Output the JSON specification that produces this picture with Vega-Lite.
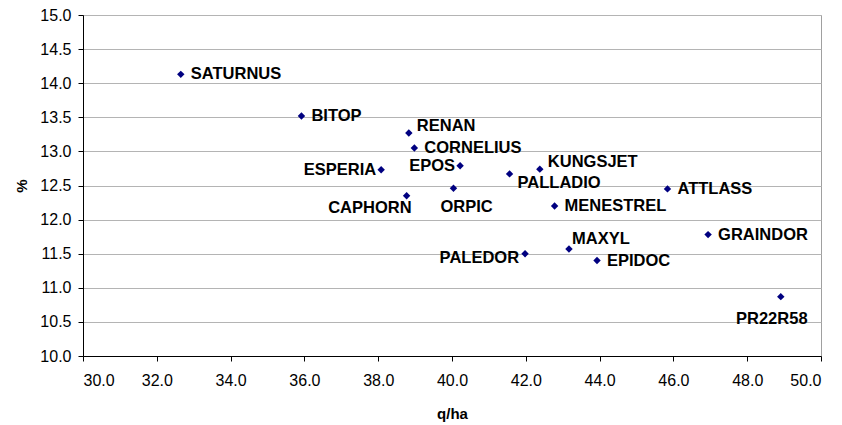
{
  "$schema": "https://vega.github.io/schema/vega-lite/v6.json",
  "width": 738,
  "height": 341,
  "autosize": {"type": "none"},
  "padding": {"left": 83, "top": 15, "right": 21, "bottom": 69},
  "background": "white",
  "config": {
    "view": {"stroke": "#a0a0a0", "strokeWidth": 1},
    "font": "Liberation Sans",
    "axis": {
      "labelFont": "Liberation Sans",
      "titleFont": "Liberation Sans",
      "labelFontSize": 16,
      "labelColor": "#000000",
      "titleFontSize": 15,
      "titleFontWeight": "bold",
      "titleColor": "#000000",
      "domainColor": "#000000",
      "tickColor": "#000000",
      "tickSize": 5
    }
  },
  "data": {
    "values": [
      {"variety": "SATURNUS", "qha": 32.65, "pct": 14.13},
      {"variety": "BITOP", "qha": 35.92, "pct": 13.52},
      {"variety": "RENAN", "qha": 38.83, "pct": 13.27},
      {"variety": "CORNELIUS", "qha": 38.98, "pct": 13.05},
      {"variety": "ESPERIA", "qha": 38.08, "pct": 12.73},
      {"variety": "EPOS", "qha": 40.22, "pct": 12.79},
      {"variety": "CAPHORN", "qha": 38.77, "pct": 12.35},
      {"variety": "ORPIC", "qha": 40.04, "pct": 12.46},
      {"variety": "PALLADIO", "qha": 41.56, "pct": 12.67},
      {"variety": "KUNGSJET", "qha": 42.38, "pct": 12.74},
      {"variety": "ATTLASS", "qha": 45.84, "pct": 12.45},
      {"variety": "MENESTREL", "qha": 42.78, "pct": 12.2},
      {"variety": "GRAINDOR", "qha": 46.94, "pct": 11.78},
      {"variety": "MAXYL", "qha": 43.17, "pct": 11.57},
      {"variety": "PALEDOR", "qha": 41.98, "pct": 11.5},
      {"variety": "EPIDOC", "qha": 43.93, "pct": 11.4},
      {"variety": "PR22R58", "qha": 48.91, "pct": 10.87}
    ]
  },
  "encoding": {
    "x": {
      "field": "qha", "type": "quantitative",
      "scale": {"domain": [30, 50], "nice": false, "zero": false},
      "axis": {"title": "q/ha", "values": [30, 32, 34, 36, 38, 40, 42, 44, 46, 48, 50], "format": ".1f", "grid": false, "labelPadding": 11, "titlePadding": 18}
    },
    "y": {
      "field": "pct", "type": "quantitative",
      "scale": {"domain": [10, 15], "nice": false, "zero": false},
      "axis": {"title": "%", "values": [10, 10.5, 11, 11.5, 12, 12.5, 13, 13.5, 14, 14.5, 15], "format": ".1f", "grid": true, "gridColor": "#b4b4b4", "gridWidth": 1, "labelPadding": 7, "titlePadding": 10}
    }
  },
  "layer": [
    {"mark": {"type": "point", "shape": "diamond", "filled": true, "color": "#000080", "size": 55, "opacity": 1}},
    {
      "transform": [{"filter": {"field": "variety", "oneOf": ["SATURNUS", "BITOP", "CORNELIUS", "ATTLASS", "MENESTREL", "GRAINDOR", "EPIDOC"]}}],
      "mark": {"type": "text", "align": "left", "baseline": "middle", "dx": 10, "dy": 0, "fontSize": 16.5, "fontWeight": "bold", "color": "#000000"},
      "encoding": {"text": {"field": "variety"}}
    },
    {
      "transform": [{"filter": {"field": "variety", "oneOf": ["RENAN", "KUNGSJET"]}}],
      "mark": {"type": "text", "align": "left", "baseline": "middle", "dx": 8, "dy": -7, "fontSize": 16.5, "fontWeight": "bold", "color": "#000000"},
      "encoding": {"text": {"field": "variety"}}
    },
    {
      "transform": [{"filter": {"field": "variety", "oneOf": ["MAXYL"]}}],
      "mark": {"type": "text", "align": "left", "baseline": "middle", "dx": 3, "dy": -10, "fontSize": 16.5, "fontWeight": "bold", "color": "#000000"},
      "encoding": {"text": {"field": "variety"}}
    },
    {
      "transform": [{"filter": {"field": "variety", "oneOf": ["ESPERIA", "EPOS"]}}],
      "mark": {"type": "text", "align": "right", "baseline": "middle", "dx": -5, "dy": 0, "fontSize": 16.5, "fontWeight": "bold", "color": "#000000"},
      "encoding": {"text": {"field": "variety"}}
    },
    {
      "transform": [{"filter": {"field": "variety", "oneOf": ["PALEDOR"]}}],
      "mark": {"type": "text", "align": "right", "baseline": "middle", "dx": -6, "dy": 4, "fontSize": 16.5, "fontWeight": "bold", "color": "#000000"},
      "encoding": {"text": {"field": "variety"}}
    },
    {
      "transform": [{"filter": {"field": "variety", "oneOf": ["CAPHORN"]}}],
      "mark": {"type": "text", "align": "right", "baseline": "middle", "dx": 5, "dy": 12, "fontSize": 16.5, "fontWeight": "bold", "color": "#000000"},
      "encoding": {"text": {"field": "variety"}}
    },
    {
      "transform": [{"filter": {"field": "variety", "oneOf": ["ORPIC"]}}],
      "mark": {"type": "text", "align": "left", "baseline": "middle", "dx": -13, "dy": 19, "fontSize": 16.5, "fontWeight": "bold", "color": "#000000"},
      "encoding": {"text": {"field": "variety"}}
    },
    {
      "transform": [{"filter": {"field": "variety", "oneOf": ["PALLADIO"]}}],
      "mark": {"type": "text", "align": "left", "baseline": "middle", "dx": 8, "dy": 9, "fontSize": 16.5, "fontWeight": "bold", "color": "#000000"},
      "encoding": {"text": {"field": "variety"}}
    },
    {
      "transform": [{"filter": {"field": "variety", "oneOf": ["PR22R58"]}}],
      "mark": {"type": "text", "align": "center", "baseline": "middle", "dx": -9, "dy": 22, "fontSize": 16.5, "fontWeight": "bold", "color": "#000000"},
      "encoding": {"text": {"field": "variety"}}
    }
  ]
}
